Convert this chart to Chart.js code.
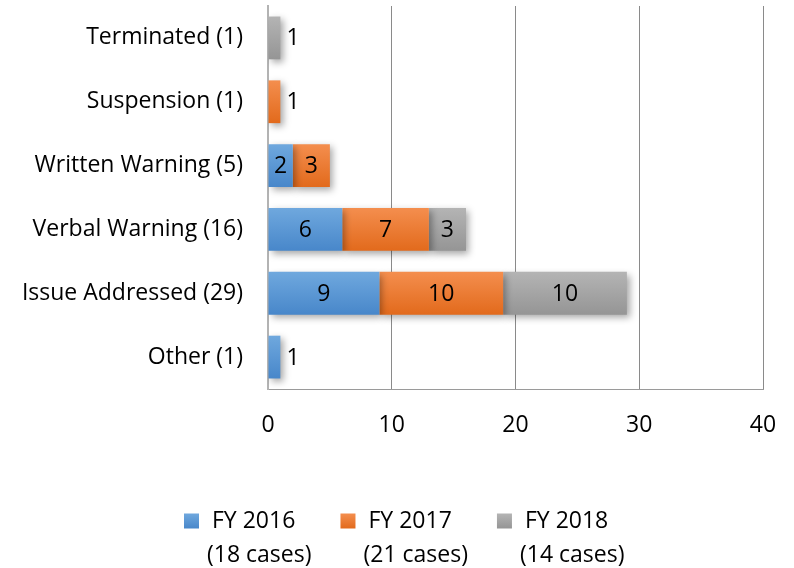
<!DOCTYPE html>
<html>
<head>
<meta charset="utf-8">
<script src="https://cdn.jsdelivr.net/npm/chart.js@4.4.0/dist/chart.umd.min.js"></script>
<style>
  html, body { margin: 0; padding: 0; background: #fff; }
  #wrap { width: 794px; height: 568px; }
</style>
</head>
<body>
<div id="wrap"><canvas id="chart"></canvas></div>
<script>
const categories = ['Terminated (1)', 'Suspension (1)', 'Written Warning (5)', 'Verbal Warning (16)', 'Issue Addressed (29)', 'Other (1)'];
const seriesNames = ['FY 2016', 'FY 2017', 'FY 2018'];
const fy2016 = [null, null, 2, 6, 9, 1];
const fy2017 = [null, 1, 3, 7, 10, null];
const fy2018 = [1, null, null, 3, 10, null];
const xMin = 0, xMax = 40, xStep = 10;

const FONT = 'Open Sans';
const FSIZE = 23;
const BAR_PCT = 0.67;

// top / bottom shades for the excel-like gradient
const shades = [
  ['#6FA8DE', '#4887CA'],
  ['#F48E4E', '#E26A1C'],
  ['#B4B4B4', '#959595'],
];

const barGradient = (top, bottom) => (c) => {
  const chart = c.chart;
  const y = chart.scales && chart.scales.y;
  if (!y || c.dataIndex === undefined || !chart.chartArea) return top;
  const center = y.getPixelForValue(c.dataIndex);
  const half = (y.height / categories.length) * BAR_PCT / 2;
  const g = chart.ctx.createLinearGradient(0, center - half, 0, center + half);
  g.addColorStop(0, top);
  g.addColorStop(1, bottom);
  return g;
};

const sum = arr => arr.reduce((a, b) => a + (b || 0), 0);
const allSeries = [fy2016, fy2017, fy2018];

const shadowAndLabels = {
  id: 'shadowAndLabels',
  beforeDatasetsDraw(chart) {
    const ctx = chart.ctx;
    ctx.save();
    ctx.shadowColor = 'rgba(0,0,0,0.35)';
    ctx.shadowBlur = 7;
    ctx.shadowOffsetX = 3;
    ctx.shadowOffsetY = 3;
  },
  afterDatasetsDraw(chart) {
    const ctx = chart.ctx;
    ctx.restore();
    ctx.save();
    ctx.font = FSIZE + 'px "' + FONT + '"';
    ctx.fillStyle = '#000';
    ctx.textBaseline = 'middle';
    chart.data.datasets.forEach((ds, i) => {
      const meta = chart.getDatasetMeta(i);
      meta.data.forEach((bar, j) => {
        const v = ds.data[j];
        if (v === null || v === undefined) return;
        const w = bar.x - bar.base;
        if (w < 22) {
          ctx.textAlign = 'left';
          ctx.fillText(String(v), bar.x + 6, bar.y + 1);
        } else {
          ctx.textAlign = 'center';
          ctx.fillText(String(v), (bar.x + bar.base) / 2, bar.y + 1);
        }
      });
    });
    ctx.restore();
  }
};

const bottomLegend = {
  id: 'bottomLegend',
  afterDraw(chart) {
    const ctx = chart.ctx;
    ctx.save();
    ctx.font = FSIZE + 'px "' + FONT + '"';
    ctx.textBaseline = 'middle';
    const box = 15, gapItem = 29;
    const y1 = 521, y2 = 555;
    let x = 184;
    seriesNames.forEach((name, i) => {
      const lines = [name, '(' + sum(allSeries[i]) + ' cases)'];
      const tw = Math.max(...lines.map(l => ctx.measureText(l).width));
      const g = ctx.createLinearGradient(0, y1 - box / 2, 0, y1 + box / 2);
      g.addColorStop(0, shades[i][0]);
      g.addColorStop(1, shades[i][1]);
      ctx.fillStyle = g;
      ctx.fillRect(x, y1 - box / 2, box, box);
      ctx.fillStyle = '#000';
      ctx.textAlign = 'left';
      ctx.fillText(lines[0], x + 28, y1);
      ctx.fillText(lines[1], x + 23, y2);
      x += 23 + tw + gapItem;
    });
    ctx.restore();
  }
};

const ctx = document.getElementById('chart').getContext('2d');
new Chart(ctx, {
  type: 'bar',
  data: {
    labels: categories,
    datasets: seriesNames.map((name, i) => ({
      label: name,
      data: allSeries[i],
      backgroundColor: barGradient(shades[i][0], shades[i][1]),
      borderWidth: 0,
      barPercentage: BAR_PCT,
      categoryPercentage: 1,
    })),
  },
  options: {
    indexAxis: 'y',
    responsive: true,
    maintainAspectRatio: false,
    animation: false,
    layout: { padding: { top: 6, right: 31, left: 0, bottom: 0 } },
    scales: {
      x: {
        stacked: true,
        min: xMin,
        max: xMax,
        ticks: {
          stepSize: xStep,
          color: '#000',
          padding: 23,
          font: { family: FONT, size: FSIZE },
        },
        grid: { color: '#8a8a8a', lineWidth: 1, drawTicks: false },
        border: { display: true, color: '#9a9a9a', width: 1 },
        afterFit: s => { s.height = 179; s.paddingLeft = 0; s.paddingRight = 0; },
      },
      y: {
        stacked: true,
        ticks: {
          color: '#000',
          padding: 25,
          font: { family: FONT, size: FSIZE },
        },
        grid: { display: false, drawTicks: false },
        border: { display: true, color: '#b3b3b3', width: 2 },
        afterFit: s => { s.width = 268; s.paddingTop = 0; s.paddingBottom = 0; },
      },
    },
    plugins: {
      legend: { display: false },
      tooltip: { enabled: false },
    },
  },
  plugins: [shadowAndLabels, bottomLegend],
});
</script>
</body>
</html>
